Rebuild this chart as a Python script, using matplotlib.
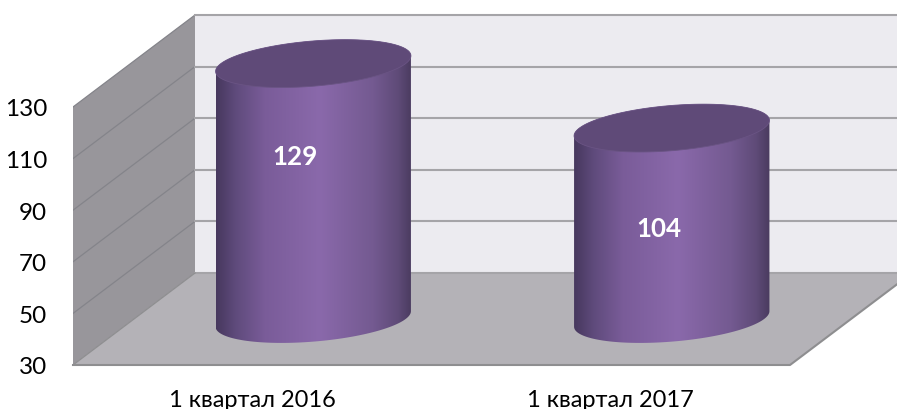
import matplotlib

matplotlib.use("Agg")
import matplotlib.pyplot as plt
import numpy as np
from matplotlib.colors import LinearSegmentedColormap
from matplotlib.patches import Polygon

plt.rcParams["font.family"] = ["Lato", "Open Sans", "DejaVu Sans"]

categories = ["1 квартал 2016", "1 квартал 2017"]
values = [129, 104]
value_ticks = [30, 50, 70, 90, 110, 130]

BASE = value_ticks[0]
TOP = value_ticks[-1]

# oblique projection: moving to the back wall shifts right and up
DEPTH_X = 122 / 358.5
DEPTH_Y = 92 / 2.58
RADIUS_X = 0.2577
RADIUS_D = 0.26

body_cmap = LinearSegmentedColormap.from_list(
    "body",
    [
        (0.0, "#47385e"),
        (0.1, "#5f4b7c"),
        (0.25, "#7a5c99"),
        (0.53, "#8a69ab"),
        (0.8, "#745a91"),
        (0.93, "#5f4b78"),
        (1.0, "#4a3b5f"),
    ],
)


def project(x, value, depth):
    return x + DEPTH_X * depth, value + DEPTH_Y * depth


def circle_points(center, value, t):
    depth = 0.5 + RADIUS_D * np.sin(t)
    x = center + RADIUS_X * np.cos(t)
    return np.column_stack(project(x, value, depth))


def draw_cylinder(ax, center, value):
    # angle where the outline reaches its right-most point
    t0 = np.arctan2(DEPTH_X * RADIUS_D, RADIUS_X)
    lower = circle_points(center, BASE, np.linspace(t0 + np.pi, t0 + 2 * np.pi, 80))
    upper = circle_points(center, value, np.linspace(t0, t0 + np.pi, 80))
    outline = Polygon(np.vstack([lower, upper]), closed=True, fc="none", ec="none", transform=ax.transData)
    ax.add_patch(outline)

    x_left = lower[:, 0].min()
    x_right = lower[:, 0].max()
    y_low = lower[:, 1].min()
    y_high = upper[:, 1].max()
    image = ax.imshow(
        np.linspace(0, 1, 256).reshape(1, -1),
        cmap=body_cmap,
        extent=(x_left, x_right, y_low, y_high),
        aspect="auto",
        zorder=4,
    )
    image.set_clip_path(outline)

    top = circle_points(center, value, np.linspace(0, 2 * np.pi, 160))
    ax.add_patch(Polygon(top, closed=True, fc="#5f4a78", ec="#6a5484", lw=0.6, zorder=5))


fig = plt.figure(figsize=(8.97, 4.10), dpi=100)
ax = fig.add_axes([73 / 897, 44 / 410, 824 / 897, 366 / 410])

n = len(categories)
ax_right = 824 / 358.5
ax_top = BASE + 366 / 2.58

back_low = project(0, BASE, 1)
back_high = project(0, TOP, 1)
back_right = project(n, BASE, 1)
back_right_top = project(n, TOP, 1)

ax.add_patch(
    Polygon([back_low, back_right, back_right_top, back_high], closed=True, fc="#ecebf0", ec="none", zorder=1)
)
ax.add_patch(
    Polygon([(0, BASE), (0, TOP), back_high, back_low], closed=True, fc="#98969b", ec="none", zorder=1)
)
ax.add_patch(
    Polygon([(0, BASE), (n, BASE), back_right, back_low], closed=True, fc="#b4b2b7", ec="none", zorder=2)
)

for tick in value_ticks:
    bx, by = project(0, tick, 1)
    rx, _ = project(n, tick, 1)
    if tick > BASE:
        ax.plot([0, bx], [tick, by], color="#84848a", lw=0.9, zorder=2)
    ax.plot([bx, rx], [by, by], color="#a5a4a8", lw=1.5, zorder=2)

ax.plot([0, n, back_right[0]], [BASE, BASE, back_right[1]], color="#8e8e90", lw=1.5, zorder=3, clip_on=False)
ax.plot([0, back_low[0]], [BASE, back_low[1]], color="#8e8e90", lw=0.9, zorder=3)

centers = [i + 0.5 for i in range(n)]
label_drop = [18.0, 20.9]
label_shift = [0.12, 0.135]
for center, value, drop, shift in zip(centers, values, label_drop, label_shift):
    draw_cylinder(ax, center, value)
    ax.text(
        center + shift,
        value - drop,
        str(value),
        color="white",
        fontsize=18.7,
        fontweight="bold",
        ha="center",
        va="center",
        zorder=6,
    )

ax.set_xlim(0, ax_right)
ax.set_ylim(BASE, ax_top)
ax.set_xticks(centers)
ax.set_xticklabels(categories, fontsize=17, color="black")
ax.set_yticks(value_ticks)
ax.set_yticklabels(value_ticks, fontsize=17.5, color="black")
ax.tick_params(axis="x", length=0, pad=17)
ax.tick_params(axis="y", length=0, pad=18.5)
for spine in ax.spines.values():
    spine.set_visible(False)
ax.patch.set_visible(False)

fig.savefig("out.png", dpi=100)
plt.close(fig)
